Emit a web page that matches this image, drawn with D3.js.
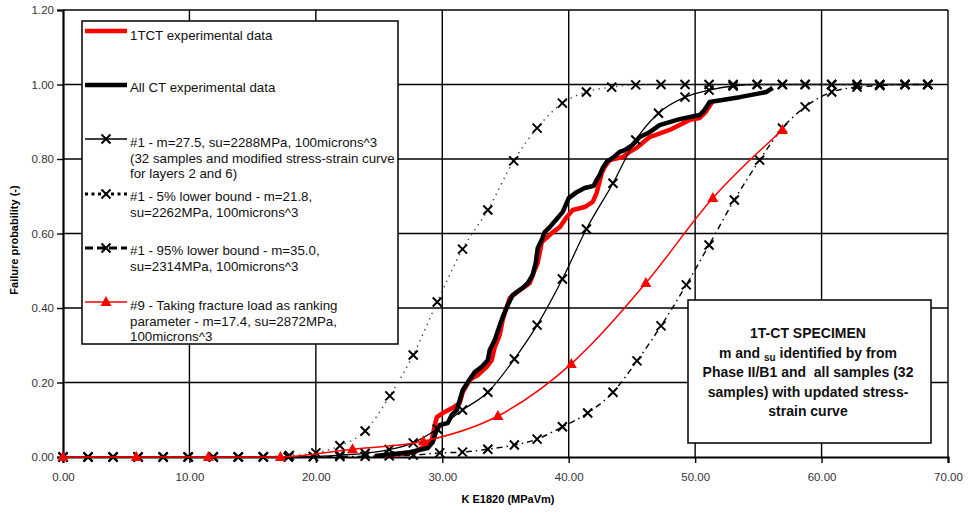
<!DOCTYPE html>
<html>
<head>
<meta charset="utf-8">
<script src="https://cdn.jsdelivr.net/npm/d3@7"></script>
<style>
  body { margin: 0; background: #fff; }
  text { font-family: Arial, "Liberation Sans", sans-serif; }
</style>
</head>
<body>
<svg id="chart" width="969" height="512"></svg>
<script>
// ---- data ----
var xTicks = [0, 10, 20, 30, 40, 50, 60, 70];
var yTicks = [0, 0.2, 0.4, 0.6, 0.8, 1.0, 1.2];

// 1TCT experimental data (red, thick)
var tctK = [25.45, 27.83, 28.62, 29.17, 29.41, 29.57, 30.04, 30.83, 31.38, 31.62, 32.17, 32.81, 33.52, 33.91, 34.15, 34.55, 34.78, 35.10, 35.34, 36.13, 36.92, 37.31, 37.55, 37.87, 38.66, 39.29, 39.84, 40.32, 41.26, 41.90, 42.21, 42.61, 42.85, 43.24, 44.27, 44.82, 45.38, 46.40, 47.98, 49.57, 50.36, 50.83, 51.30];
var tctP = [0.003, 0.013, 0.030, 0.046, 0.086, 0.107, 0.118, 0.132, 0.145, 0.174, 0.207, 0.220, 0.242, 0.260, 0.295, 0.328, 0.368, 0.403, 0.427, 0.448, 0.467, 0.502, 0.521, 0.577, 0.601, 0.617, 0.644, 0.663, 0.671, 0.685, 0.709, 0.762, 0.779, 0.797, 0.805, 0.819, 0.830, 0.859, 0.878, 0.905, 0.910, 0.926, 0.950];

// All CT experimental data (black, thick)
var allK = [24.66, 27.43, 28.85, 29.25, 29.49, 29.80, 30.43, 30.75, 31.15, 31.38, 31.62, 32.02, 32.57, 33.12, 33.60, 33.75, 34.15, 34.55, 34.78, 35.18, 35.57, 35.89, 36.36, 36.76, 37.15, 37.39, 37.55, 37.87, 38.10, 38.50, 39.05, 39.53, 39.84, 40.00, 40.63, 41.26, 41.98, 42.21, 42.45, 42.69, 43.00, 43.48, 44.03, 44.43, 45.06, 45.61, 46.40, 47.19, 48.77, 50.36, 50.75, 51.15, 53.52, 55.65, 56.13];
var allP = [0.003, 0.013, 0.024, 0.040, 0.067, 0.086, 0.091, 0.113, 0.126, 0.153, 0.180, 0.201, 0.228, 0.242, 0.260, 0.287, 0.314, 0.354, 0.376, 0.408, 0.435, 0.443, 0.454, 0.467, 0.489, 0.521, 0.561, 0.583, 0.604, 0.617, 0.639, 0.658, 0.682, 0.695, 0.711, 0.722, 0.728, 0.744, 0.757, 0.776, 0.792, 0.803, 0.819, 0.824, 0.838, 0.859, 0.872, 0.891, 0.907, 0.918, 0.932, 0.953, 0.966, 0.980, 0.991];

// #1 - m=27.5, su=2288MPa
var m1K = [0, 1.98, 3.96, 5.94, 7.92, 9.9, 11.88, 13.86, 15.84, 17.82, 19.8, 21.9, 23.9, 25.8, 27.7, 29.6, 31.6, 33.6, 35.7, 37.5, 39.5, 41.4, 43.5, 45.3, 47.1, 49.2, 51.1, 53.0, 54.9, 56.9, 58.7, 60.8, 62.8, 64.6, 66.6, 68.4];
var m1P = [0, 0, 0, 0, 0, 0, 0, 0, 0, 0, 0.001, 0.005, 0.01, 0.02, 0.038, 0.075, 0.126, 0.174, 0.263, 0.354, 0.478, 0.612, 0.735, 0.851, 0.923, 0.966, 0.985, 0.996, 1, 1, 1, 1, 1, 1, 1, 1];

// #1 - 5% lower bound - m=21.8
var lb5K = [0, 1.98, 3.96, 5.94, 7.92, 9.9, 11.88, 13.86, 15.84, 17.9, 20.0, 21.9, 23.9, 25.85, 27.7, 29.6, 31.6, 33.6, 35.65, 37.5, 39.5, 41.4, 43.4, 45.3, 47.3, 49.2, 51.1, 53.0, 54.9, 56.9, 58.7, 60.8, 62.8, 64.6, 66.6, 68.4];
var lb5P = [0, 0, 0, 0, 0, 0, 0, 0, 0.001, 0.004, 0.011, 0.03, 0.07, 0.164, 0.274, 0.416, 0.558, 0.663, 0.795, 0.883, 0.950, 0.980, 0.993, 0.999, 1, 1, 1, 1, 1, 1, 1, 1, 1, 1, 1, 1];

// #1 - 95% lower bound - m=35.0
var lb95K = [0, 1.98, 3.96, 5.94, 7.92, 9.9, 11.88, 13.86, 15.84, 17.82, 19.8, 21.9, 23.9, 25.8, 27.7, 29.8, 31.6, 33.6, 35.7, 37.5, 39.5, 41.5, 43.5, 45.4, 47.3, 49.3, 51.1, 53.1, 55.1, 56.9, 58.7, 60.8, 62.8, 64.6, 66.6, 68.4];
var lb95P = [0, 0, 0, 0, 0, 0, 0, 0, 0, 0, 0.001, 0.001, 0.002, 0.003, 0.005, 0.011, 0.013, 0.021, 0.032, 0.048, 0.081, 0.118, 0.174, 0.258, 0.352, 0.462, 0.569, 0.690, 0.797, 0.883, 0.940, 0.980, 0.993, 0.997, 1, 1];

// #9 - fracture load as ranking parameter - m=17.4
var r9K = [0, 5.8, 11.5, 17.2, 22.9, 28.5, 34.4, 40.2, 46.1, 51.4, 56.9];
var r9P = [0, 0, 0, 0, 0.021, 0.042, 0.110, 0.250, 0.467, 0.695, 0.878];

var legendItems = [
  {lines: ["1TCT experimental data"], ty: 40, ly: 31, kind: "tct"},
  {lines: ["All CT experimental data"], ty: 92, ly: 85, kind: "all"},
  {lines: ["#1 - m=27.5, su=2288MPa, 100microns^3", "(32 samples and modified stress-strain curve", "for layers 2 and 6)"], ty: 147, ly: 139, kind: "m1"},
  {lines: ["#1 - 5% lower bound - m=21.8,", "su=2262MPa, 100microns^3"], ty: 201, ly: 194, kind: "lb5"},
  {lines: ["#1 - 95% lower bound - m=35.0,", "su=2314MPa, 100microns^3"], ty: 255, ly: 248, kind: "lb95"},
  {lines: ["#9 - Taking fracture load as ranking", "parameter - m=17.4, su=2872MPa,", "100microns^3"], ty: 310, ly: 302, kind: "r9"}
];

// ---- chart ----
var svg = d3.select("#chart");
var x = d3.scaleLinear().domain([0, 70]).range([63, 948]);
var y = d3.scaleLinear().domain([0, 1.2]).range([457, 10]);

function zip(a, b) { return a.map(function(v, i) { return [v, b[i]]; }); }

var styles = {
  tct:  {stroke: "#ff0000", width: 4.5, dash: null},
  all:  {stroke: "#000", width: 4.5, dash: null},
  m1:   {stroke: "#000", width: 1.3, dash: null},
  lb5:  {stroke: "#444", width: 1.4, dash: "1.4,4.5"},
  lb95: {stroke: "#000", width: 1.4, dash: "6,4,1.5,4"},
  r9:   {stroke: "#ff0000", width: 1.5, dash: null}
};

// grid
svg.append("g").selectAll("line.v").data(xTicks.slice(1)).enter().append("line")
  .attr("x1", x).attr("x2", x).attr("y1", y(0)).attr("y2", y(1.2))
  .attr("stroke", "#000").attr("stroke-width", 1.4);
svg.append("g").selectAll("line.h").data(yTicks.slice(1)).enter().append("line")
  .attr("x1", x(0)).attr("x2", x(70)).attr("y1", y).attr("y2", y)
  .attr("stroke", "#000").attr("stroke-width", 1.4);

// axes
var xAxis = svg.append("g").attr("transform", "translate(0," + y(0) + ")")
  .call(d3.axisBottom(x).tickValues(xTicks).tickSize(6).tickFormat(d3.format(".2f")));
var yAxis = svg.append("g").attr("transform", "translate(" + x(0) + ",0)")
  .call(d3.axisLeft(y).tickValues(yTicks).tickSize(6).tickFormat(d3.format(".2f")));
[xAxis, yAxis].forEach(function(a) {
  a.select(".domain").attr("stroke", "#000").attr("stroke-width", 2.2);
  a.selectAll(".tick line").attr("stroke", "#000").attr("stroke-width", 1.4);
  a.selectAll(".tick text").attr("fill", "#333").style("font-size", "11.5px")
    .style("font-family", "Arial, 'Liberation Sans', sans-serif");
});
xAxis.selectAll(".tick text").attr("dy", "1.3em");
yAxis.selectAll(".tick text").attr("x", -9);

svg.append("text").attr("x", 508).attr("y", 503).attr("text-anchor", "middle")
  .style("font-size", "11px").style("font-weight", "bold").text("K E1820 (MPaVm)");
svg.append("text").attr("transform", "translate(18,240) rotate(-90)").attr("text-anchor", "middle")
  .style("font-size", "11px").style("font-weight", "bold").text("Failure probability (-)");

// curves
var smooth = d3.line().x(function(d) { return x(d[0]); }).y(function(d) { return y(d[1]); })
  .curve(d3.curveMonotoneX);
var straight = d3.line().x(function(d) { return x(d[0]); }).y(function(d) { return y(d[1]); });

var plot = svg.append("g");
function drawCurve(pts, st, gen) {
  plot.append("path").datum(pts).attr("d", gen).attr("fill", "none")
    .attr("stroke", st.stroke).attr("stroke-width", st.width)
    .attr("stroke-dasharray", st.dash).attr("stroke-linejoin", "round");
}
var crossPath = "M-4.5,-4.5L4.5,4.5M-4.5,4.5L4.5,-4.5";
var triPath = "M0,-6L5.5,4L-5.5,4Z";
function drawCrosses(pts) {
  plot.append("g").selectAll("path").data(pts).enter().append("path")
    .attr("transform", function(d) { return "translate(" + x(d[0]) + "," + y(d[1]) + ")"; })
    .attr("d", crossPath).attr("stroke", "#000").attr("stroke-width", 2).attr("fill", "none");
}

var m1 = zip(m1K, m1P), lb5 = zip(lb5K, lb5P), lb95 = zip(lb95K, lb95P), r9 = zip(r9K, r9P);

drawCurve(zip(tctK, tctP), styles.tct, straight);
drawCurve(zip(allK, allP), styles.all, straight);
drawCurve(m1, styles.m1, smooth);
drawCrosses(m1);
drawCurve(lb5, styles.lb5, smooth);
drawCrosses(lb5);
drawCurve(lb95, styles.lb95, smooth);
drawCrosses(lb95);
drawCurve(r9, styles.r9, smooth);
plot.append("g").selectAll("path").data(r9).enter().append("path")
  .attr("transform", function(d) { return "translate(" + x(d[0]) + "," + y(d[1]) + ")"; })
  .attr("d", triPath).attr("fill", "#ff0000");

// legend
var leg = svg.append("g");
leg.append("rect").attr("x", 82).attr("y", 21).attr("width", 316).attr("height", 323)
  .attr("fill", "#fff").attr("stroke", "#000").attr("stroke-width", 1.5);
legendItems.forEach(function(it) {
  var st = styles[it.kind];
  leg.append("line").attr("x1", 85).attr("x2", 127).attr("y1", it.ly).attr("y2", it.ly)
    .attr("stroke", it.kind === "lb5" ? "#000" : st.stroke)
    .attr("stroke-width", it.kind === "lb5" || it.kind === "lb95" ? 3 : st.width)
    .attr("stroke-dasharray", it.kind === "lb5" ? "3,3.5" : (it.kind === "lb95" ? "8,4" : null));
  if (it.kind === "m1" || it.kind === "lb5" || it.kind === "lb95") {
    leg.append("path").attr("transform", "translate(106," + it.ly + ")").attr("d", crossPath)
      .attr("stroke", "#000").attr("stroke-width", 2).attr("fill", "none");
  }
  if (it.kind === "r9") {
    leg.append("path").attr("transform", "translate(106," + it.ly + ")").attr("d", triPath)
      .attr("fill", "#ff0000");
  }
  var t = leg.append("text").attr("x", 130).attr("y", it.ty).style("font-size", "13.3px").attr("fill", "#111");
  it.lines.forEach(function(s, i) {
    t.append("tspan").attr("x", 130).attr("dy", i === 0 ? 0 : 15.5).text(s);
  });
});

// annotation box
var note = svg.append("g");
note.append("rect").attr("x", 688).attr("y", 300).attr("width", 243).attr("height", 143)
  .attr("fill", "#fff").attr("stroke", "#000").attr("stroke-width", 1.5);
var noteText = note.append("text").attr("x", 808).attr("y", 338).attr("text-anchor", "middle")
  .style("font-size", "14px").style("font-weight", "bold").attr("fill", "#111");
noteText.append("tspan").attr("x", 808).attr("dy", 0).text("1T-CT SPECIMEN");
var l2 = noteText.append("tspan").attr("x", 808).attr("dy", 19.5);
l2.append("tspan").text("m and ");
l2.append("tspan").style("font-size", "10px").attr("dy", 3).text("su");
l2.append("tspan").attr("dy", -3).text(" identified by from");
noteText.append("tspan").attr("x", 808).attr("dy", 19.5).text("Phase II/B1 and\u00a0 all samples (32");
noteText.append("tspan").attr("x", 808).attr("dy", 19.5).text("samples) with updated stress-");
noteText.append("tspan").attr("x", 808).attr("dy", 19.5).text("strain curve");
</script>
</body>
</html>
